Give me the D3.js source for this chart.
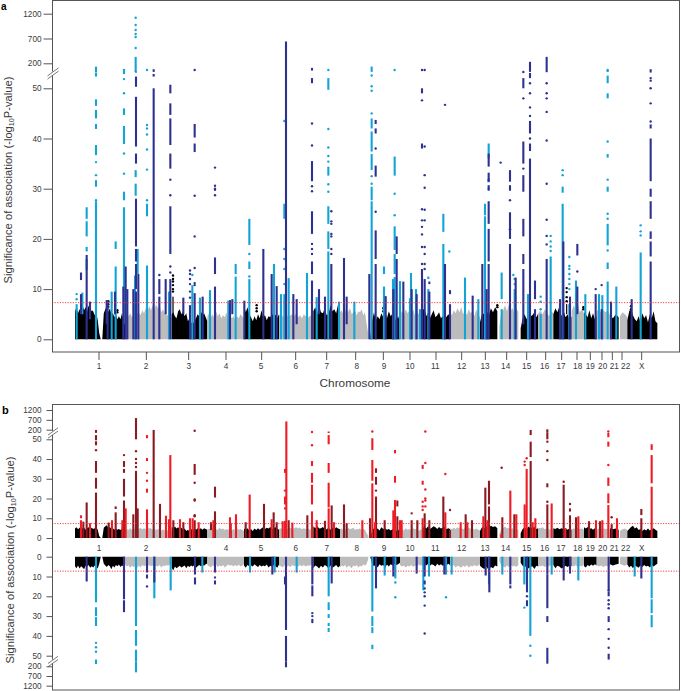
<!DOCTYPE html>
<html><head><meta charset="utf-8">
<script src="https://cdn.jsdelivr.net/npm/d3@7/dist/d3.min.js"></script>
<style>html,body{margin:0;padding:0;background:#fff}svg{display:block}text{font-family:"Liberation Sans",Arial,sans-serif;fill:#3a3a3a}</style>
</head><body><div id="chart"></div>
<script>
// x positions are in relative genome track units (0-2043 across the figure)
const chromosomes = ["1","2","3","4","5","6","7","8","9","10","11","12","13","14","15","16","17","18","19","20","21","22","X"];
const chrStart = [225,375,515,622,732,837,940,1020,1105,1200,1268,1350,1440,1498,1562,1615,1660,1715,1752,1790,1830,1860,1882];
const chrEnd   = [375,515,622,732,837,940,1020,1105,1200,1268,1350,1440,1492,1555,1615,1660,1715,1752,1790,1830,1856,1882,1972];
const chrTickPos = [297,439,566,678,785,887,980,1067,1150,1230,1308,1385,1456,1520,1580,1637,1685,1731,1771,1806,1837,1866,1925];
const chrLabelPos = [297,438,566,678,783,887,980,1070,1152,1230,1306,1385,1455,1517,1580,1634,1683,1733,1771,1808,1843,1877,1925];
const yTickValues = [0,10,20,30,40,50,200,700,1200];
const threshold = 7.3;

const skylineA = [
[5.5,6.6,5.2,6,5.6,6.8,5.8,6.4,5.5,6.8,5.2,5.8,5.6,4.8,5.4,3.8,1.2,0,0,5.2,6,6.6,5.4,6.2,5,5.2,4.4,5,4,4.6,4,5.2,3.9,5],
[4,5,4.6,5.2,4.4,4.8,4.4,5,5.4,4.8,5.8,5.2,6.2,5.6,6.6,5.8,6.8,6,7,6.2,6.8,5.4,6,5.2,5,4.6,4.8,4.2],
[5,5.4,4.6,4.2,5.6,6,5,5.6,4.6,5.2,3.6,4.2,3.4,3,3.6,4.2,5,4.6,5.6,4.8,5.2,4.4,3.6],
[4.6,5.2,4.4,5,4.2,5.6,4.6,5.2,4.2,4.8,4.4,5.4,4,4.8,4.2,4.6,3.8,4.6,4.2,5,4.6,4],
[6.8,5.4,6.4,5,4.4,3.6,4.6,3.8,5,4.2,5.8,4.4,4.8,3.8,4.6,4.4,5,4.6,4.9,4.2,5],
[4.8,5.2,4.6,4.2,5,4.4,4.8,5,4.6,5.2,4.4,4.8,4.2,5,4.6,4.2,4.6,4.8,3.4],
[5.6,6.4,5,6.8,5.4,5.2,6.2,4.8,5,6.8,5.6,6,5.2,7,6.2],
[5.4,5.8,5,6,5.2,5.6,6.2,5,5.4,5.8,4.8,5.6,5.4,6,4.8,5.4,3,1],
[0,0,3.6,5.4,3.8,4.6,4,5.2,4.4,5.8,4.2,5.6,4.6,5.2,4.2,3.8,4.6,3.4],
[5,5.6,4.8,6,5.2,5.8,5,6,4.6,5.4,5,5.6,4.8],
[5.8,6.2,4.6,5.4,4.2,5,5.8,4.4,4.8,5.4,4.2,4.6,5.2,4.4,5,4.6],
[5.4,4.8,5.8,5.2,6.2,5.4,6.4,5,5.8,4.8,6,5.2,5.6,4.6,6,5,4.4],
[3.4,5.2,5,6,4.6,6.2,5.4,6.4,5.6],
[2.6,5.4,5.8,6.8,5.6,7,5.8,6.2,5,6.2,5.4],
[2.2,4.2,5,4,5.4,4.6,4.8,5.4,4.4,5.2],
[5.2,5.8,5,6,5.4,4.6,5.6,5.2],
[5,6.2,5.4,6.6,4.6,5.8,4.4,5,3.8,4.6],
[5.6,6.8,5.8,7,5.4,6,5.2],
[5.4,5,4.4,5.8,4.2,5.2,4,4.8],
[5.6,6,5.2,5.8,5.4,5.8,4.8],
[4.8,4.2,5,4.4],
[4.6,5.4,5,4.4],
[3.8,5.6,6.2,4.8,4,3.6,4.6,3.4,5.2,4.2,4.8,3.4,5,4.2,5.6,3.6,3.2]
];
const skylineB = [
[4.8,5.4,4.4,5.2,5.6,4.8,5.2,4.2,5,5.4,4.4,5.2,4.6,5,5.6,4.2,1,0,0,5.2,6,6.4,5,5.6,4.6,5,4.2,4.8,4.2,4.6,4,4.8,4.4,5],
[3.6,4.6,4,5,4.2,4.8,4.4,5,4.6,5.2,4.4,5,4.6,5.4,4.8,5,4.2,4.8,4,4.6,4.2,3.8,4.4,3.8,4.2,3.6,4,3.6],
[5.6,5,5.8,4.8,5.4,4.6,5.2,4.2,4.8,3.6,4.2,3.4,4.6,3.8,4.8,4.2,5,4.4,5,4.2,5,4.6,4.2],
[4,4.8,4.2,5,4.2,4.6,4,5.2,4.4,4.8,4,4.6,4.2,4.4,3.8,4.6,4,4.8,4.2,4.6,4,3.6],
[4.8,4.2,5,3.8,4.6,3.6,4.8,4,5,4.2,5,5.4,4.6,5.2,4.8,5.6,4.4,5,5.4,4.8,4.2],
[4.6,5,4.4,4.8,4.2,5,5.2,4.6,5,5.4,4.8,5.2,4.4,5,4.6,4.8,4.2,4.6,3.8],
[6,5,6.2,4.8,5,5.6,4.6,4.4,5.2,4.2,5,4.6,5.4,4.8,4.4],
[4.4,5,3.8,4.6,4,5.2,4.4,4.8,5.2,4,4.6,4.4,5,4,4.6,4.2,2.4,1],
[0,0,3.8,5,4.2,4.8,3.8,5.4,4.6,5,4.2,4.6,3.8,4.4,4,3.6,4.2,3.4],
[4,4.8,3.8,5,4.2,4.6,3.8,5,4.4,4.8,3.6,4.4,3.8],
[5,5.8,4.8,6,4.6,5.2,6,5.4,4.6,5.6,4.8,5.2,5.8,4.4,5,4.6],
[5,4.4,5.2,4.6,5.4,4.8,5.2,4.4,5,4.2,5.4,4.6,5,4.2,4.8,4.2,3.8],
[3.6,5.6,4.8,6,5.2,6.2,5.6,6,5],
[2,4.6,5,5.8,4.8,5.2,4.4,5,4,4.6,4.2],
[2.4,4.6,5.4,4.4,5.8,4.8,5.2,5.6,4.6,5],
[5.2,5,5.4,4.4,5,4.2,4.6,4],
[5,4.6,5.2,4.4,5,4.6,4.8,4.2,5,4.2],
[4.2,5,4.4,5.2,4.6,4.8,4],
[5.4,4.8,5.6,4.6,5,4.2,5,4.2],
[4.2,4.8,4.4,5,4.6,4.8,3.8],
[5,4.4,4.8,4.2],
[3.6,4.4,4.8,4],
[3.6,4.6,5.6,6.2,4.8,5.4,4,4.6,3.6,4.4,3.8,4.8,3.8,4.4,5,4.2,3.6]
];
const skylineC = [
[4.8,5.8,4.4,6,4.8,5.4,6.4,4.6,5,4.2,5.6,4.8,5.4,4.4,5,6,3.6,0,0,3.6,4.4,5.2,4.2,4.8,6.4,4.6,5.4,4.2,4.8,4,5.2,4.4,4.8,5],
[3.8,5,4.4,5.6,4.6,5.2,4.8,5.6,4.4,5.4,4.2,4.8,4.4,5,4.2,4.8,4.4,5.4,4.6,5,4.2,5.4,4.4,4.8,4.2,4.6,3.8,4.4],
[5.6,7,5,5.8,5.2,4.6,5.4,5,4.4,5.8,4.6,5.2,4.4,5,4.2,5.6,4.8,4.2,4.8,4.2,4.6,3.8,3.4],
[4.2,4.8,5.4,4.4,4.8,4,5.2,4.4,5,4.2,5.4,4.6,4,4.6,4.2,5,4.2,4.8,4,5,4.4,4],
[4.4,5.6,4.2,4.8,4.4,5,3.8,4.6,5.2,4.2,5,4.4,4.8,4,5.4,4.6,5,4.2,4.8,5.6,4],
[4.4,4.8,5.4,4.2,5,4.6,5.2,4.2,4.8,4.4,5,4.2,4.8,4.2,5,4.4,4.6,4,3.6],
[5.8,4.4,5,6,4.6,5.4,4.2,4.8,6,4.4,5.6,5,4.2,5.4,4.6],
[5.4,4.4,5,4.2,5.6,4.6,5,5.8,4.4,5,4.2,5.4,4.6,5,4,4.6,3.6,1],
[0,0,3.6,4.8,4,5.4,3.8,4.6,4.2,5.6,4,5,3.8,4.4,3.6,4.2,3.8,3],
[4.2,5,4.4,5.4,4.6,5,4.2,5.2,4.4,5,4,4.6,3.8],
[5,3.8,4.4,3.6,4.6,3.8,4.2,5,3.6,4.4,3.8,4.6,4,4.4,3.6,4.2],
[4.4,5,4.2,5.4,4.6,5,5.6,4.4,5.2,4.2,5.4,4.6,5,4.2,4.8,4.4,4],
[4.6,5.6,6.2,5,6.8,5.2,5.8,4.4,5],
[2,4.4,5,5.4,4.4,5.2,4.2,5,4.6,5.2,4.2],
[3,4.6,5.4,4.4,6,5.2,4.8,6.2,4.6,5],
[4.2,5,4.4,5.2,4.6,4.8,4.2,3.6],
[4.2,5.8,4.6,5,6,5.4,4.6,5.2,4.4,4.8],
[4.4,5,4.2,5.4,4.6,5,4],
[4.8,5.4,4.2,4.8,4,4.6,3.8,4.4],
[4.2,5,4.4,5.2,4.6,5,4],
[3.8,4.4,4,3.6],
[3.6,4.2,4.6,4],
[4,5.4,4.6,5.8,4.4,5,5.6,4.4,5.2,4.2,5,4.6,5.4,4.2,5,4.2,3.6]
];

// each row: track position, solid runs [low, high], isolated dots
const aBlack = [
[519,[[5,8.5]],[9.5,10,10.8,11.5,12,12.7]],[325,[],[6.5,7,7.6]],[352,[],[5.4,5.8]],[770,[],[5.6,6.2,6.8]],
[1700,[[5,7]],[7.6,8.4,9.4,10.2]],[1150,[],[5.6,6.2]],[1492,[],[6.4,6.8]],[1893,[],[6,6.6]],[1750,[],[6,6.4]]
];
const aLight = [
[230,[[0,7]],[8,9]],[247,[[5,9.3]],[]],[260,[[13.8,16],[17.5,18.4],[20.5,23.5],[24,26.3]],[]],
[288,[[0,27.5],[30.4,31.7],[36.7,38.7],[41.9,42.9],[44,45.7],[46.5,47.8],[52.3,53],[60,150]],[27.7,32.7,35.3]],
[335,[[0,9.5]],[]],[347,[[0,14.5],[18,19.5]],[]],
[372,[[3,26.3],[27.7,29.4],[38.9,42.5],[44.7,46]],[33,37,49,51.8,53,85,98]],
[405,[[0,12.7]],[]],[407,[[28.6,31],[32.3,33.7],[68,330]],[508,730,790,872,972,1119]],[413,[[13,18]],[]],
[441,[[0,14.7],[24.5,27]],[27.7,33.8,37.8,40.8,42,42.7,98]],[507,[[0,9.5]],[]],[577,[[0,10.8]],[12.8]],
[600,[[0,8.3]],[]],[630,[[0,9.8]],[]],[685,[[0,7.7]],[]],[707,[[0,12.5],[13,15]],[]],
[748,[[0,12],[14,15.5],[18.8,24]],[12.5,17]],[822,[[0,15]],[]],[843,[[0,9]],[]],
[853,[[0,9],[24,27]],[11,14,16,18,43.5]],[866,[[0,12.2]],[]],[921,[[0,13.2]],[]],[950,[[0,8.4]],[]],
[985,[[0,17.5],[18,21.5],[23,26.5],[32.6,34.4],[49.7,52]],[29.4,30.9,35.4,36.5,38.2,41.9,98]],[1017,[[0,7.5]],[]],
[1063,[[0,7.5]],[]],
[1115,[[0,27.5],[27.7,30.4],[33.7,36.9],[37.4,41.4],[42,44],[70,150]],[31,32.5,45,49.5,50.4,52.5]],
[1152,[[0,10.5],[13,14.5]],[]],[1179,[[0,12]],[]],
[1184,[[0,12.4],[13,17],[17.8,22.5],[32.6,36.4]],[24.7,29,98]],
[1200,[[0,11.6]],[]],[1230,[[0,8.2]],[]],[1233,[[0,13.2]],[]],[1248,[[0,10]],[]],[1260,[[0,6]],[]],[1285,[[0,10],[12,12.5]],[]],
[1330,[[0,19],[21.4,25]],[]],[1348,[],[17.5]],[1395,[[0,12.3]],[]],[1435,[[0,8]],[]],
[1455,[[0,24.5],[24.7,27]],[]],[1466,[[36,39]],[30,31.5]],
[1505,[[0,6],[8,13.3]],[]],[1540,[],[12.8]],[1544,[[0,10]],[11,12]],
[1584,[[0,9]],[]],[1622,[[0,5]],[6,7.5,8.5]],[1652,[[0,16.5]],[17.6,18.5,19.5,20.6]],
[1688,[[0,27],[29.2,30.4]],[32.7,33.7]],[1708,[[0,7]],[10,11,12,13,14,14.6,16.4]],
[1728,[[0,11.7]],[]],[1756,[[0,9]],[]],[1797,[[0,9]],[]],[1807,[[0,8.8]],[]],
[1823,[[0,11.5],[14,15.3],[18.7,23],[29.4,30.4],[36.2,36.9],[48,49],[51,52.5]],[17.7,24,25,31.8,39.4,85,100]],
[1849,[[0,10.5]],[]],[1922,[[0,17.3]],[20.7,21.5,22.7]]
];
const aDark = [
[243,[[5,9],[11.8,13.3]],[]],[260,[[0,16.8]],[]],[270,[[4,7.5]],[]],[320,[[3,7.8]],[]],[323,[[0,7.8]],[]],
[345,[[5,9.5]],[]],[370,[[0,10.5]],[]],[377,[[0,14.5]],[]],[382,[[0,10]],[]],[400,[[0,10]],[]],
[408,[[0,9.5],[10,15],[15.5,18],[18.5,28],[35,37],[38.4,48.3],[50.3,52.3],[60,72]],[]],[415,[[0,13]],[]],
[461,[[0,50],[52.3,52.8],[70,110]],[]],[478,[[0,8.5],[9,12]],[12.8]],[497,[[5,12]],[]],
[511,[[0,12],[17,26.5],[34,37],[38.7,44],[44.7,47],[49,50.7]],[13.3,14.5,28.7,31.8]],
[550,[[5,8.3]],[]],[570,[[0,6.8]],[8.3,9.5,11,12,13,13.7]],
[584,[[0,9.2],[37.3,39],[40.2,42.9]],[10.8,11.2,14.2,20.5,28.6,98]],[608,[[0,8.5]],[]],
[645,[[0,10.5],[13,16.3]],[28.7,29.8,30,30.6,34.2]],[690,[[0,7.8]],[]],[697,[[5,8]],[]],[733,[[0,7.7]],[]],
[790,[[0,18]],[]],[815,[[0,13]],[]],[830,[[0,10.6]],[]],[858,[[0,53],[53,640]],[]],[880,[[0,9]],[]],[890,[[3,8]],[]],
[936,[[0,11.7],[13,15.5],[21,25.5],[31.5,35.5],[51,52],[90,130]],[17,18,19,29.5,30.5,38.6,43]],
[957,[[5,10]],[]],[975,[[0,8.5]],[]],[994,[[0,15]],[17,18,20.5,21,23,23.5,25.5]],
[1032,[[0,16.2]],[]],[1040,[[3,8.5]],[]],[1108,[[0,13]],[]],
[1127,[[0,15],[16,21.7],[32.4,34.6],[41,42],[42.9,43.7]],[25.4,38]],
[1157,[[0,8.6]],[]],[1180,[[0,10]],[]],[1190,[[0,16],[17,20.5]],[]],[1210,[[0,11.5]],[]],[1235,[[0,10]],[]],[1250,[[0,9]],[]],
[1266,[[0,14],[38,39],[49,50]],[15,18.4,20.9,22.4,23.7,25.9,47.6,98]],
[1274,[[0,12]],[14,15,17,18.4,23.7,25.8,30.2,32.7,38.4,98]],
[1288,[[0,9.5],[11,11.5]],[]],[1335,[[0,15]],[46.7]],[1350,[[0,7],[9,9.8]],[]],[1418,[[0,8.7]],[]],
[1447,[[0,15]],[]],[1460,[[0,10]],[]],
[1466,[[0,15],[15.5,22],[23,27.5],[29.6,30.7],[31.4,33.2],[34.4,37]],[31.8]],[1502,[],[35.2]],
[1530,[[0,19],[20,25.3],[29.6,30.7],[31.4,33.7]],[21.9,27.7]],[1547,[[0,12.3]],[]],
[1570,[[3,14],[15,17],[20.5,24],[29.4,32.7],[35,39.4],[50,52]],[34,48,68]],
[1590,[[0,36],[37.5,39],[41,43.5],[52,53.5],[70,230]],[40,44.5,46.2,49,51]],[1605,[[0,6],[8,11.7]],[]],
[1640,[[0,16],[65,330]],[18.9,20.6,23.8,31,39.6,45.3,48,49,51]],[1680,[[0,8]],[]],[1690,[[0,19.5]],[]],[1710,[[0,8.5]],[]],
[1732,[[5,10.5],[16.7,19]],[13.5]],[1787,[[0,9]],[10]],[1805,[[0,6]],[10.8]],[1833,[[0,7.5]],[]],[1895,[[0,8]],[]],
[1952,[[0,15.5],[16.5,19.5],[20,21.5],[24,27.5],[28.4,30],[31.5,40],[42,42.8],[60,110]],[43.4,47,50,51.5,52]]
];
const bRed = [
[243,[[0,9],[10,11.5]],[]],[270,[[0,7.5]],[]],[336,[[0,9]],[]],[367,[[0,9]],[]],[377,[[0,15]],[]],
[441,[[0,14.5],[23,25],[39,40.5],[50.5,52]],[29,33]],[498,[[0,11.3]],[]],[507,[[0,9.5]],[]],[511,[[0,42]],[]],
[540,[[0,9.5]],[]],[570,[[0,10]],[]],[578,[[0,10]],[]],[596,[[0,8]],[]],[640,[[0,9]],[]],[690,[[0,10.5]],[]],[708,[[0,12]],[]],
[749,[[0,22]],[]],[815,[[0,9.5]],[]],[848,[[0,8.5]],[]],[855,[[0,8.7],[14.5,15.5],[17,21],[33,35]],[24]],[859,[[0,53],[53,620]],[]],[877,[[0,7.8]],[]],
[936,[[0,13.5],[17,27],[28,33],[36.5,39]],[47,100]],[950,[[0,9]],[]],[986,[[0,15],[15.5,28],[33,38],[47.5,52],[53,120]],[]],[1002,[[0,8]],[]],
[1087,[[0,9]],[]],[1117,[[0,27.7],[29,39.5],[44.6,50.5]],[120]],[1125,[[0,8]],[]],
[1180,[[0,14]],[]],[1185,[[0,19.2],[28,31.4],[42.9,44.6]],[]],[1200,[[0,9]],[]],[1205,[[0,9]],[]],
[1268,[[0,10],[27,29],[35,37]],[14.2,16,18.4]],[1276,[],[16,19,20,24.6,38,120]],[1336,[[0,13]],[32.4]],[1382,[[0,8]],[]],[1402,[[0,8]],[]],
[1450,[[0,11]],[]],[1462,[[0,9]],[]],[1504,[[0,2]],[]],[1531,[[0,24]],[]],[1549,[[0,12]],[]],
[1574,[[0,17]],[37,38.7]],[1580,[[0,35]],[40.4]],[1598,[[0,8]],[]],[1606,[[0,10]],[]],[1655,[[0,17.5]],[]],[1696,[[0,5]],[]],
[1735,[[0,11]],[]],[1788,[[0,9]],[]],[1807,[[0,9]],[]],
[1825,[[0,16.7],[17.6,22.6],[26.4,30.6],[46.3,48.8],[51,53]],[37,120]],[1851,[[0,10]],[]],
[1955,[[0,26],[27.7,42],[44.6,47.5]],[]]
];
const bMaroon = [
[250,[[0,8.3]],[]],[260,[[0,18]],[]],[288,[[0,23],[25,30.5],[33,39],[47,49],[49.5,52],[60,190]],[44.5]],
[326,[[0,7.8]],[]],[347,[[0,13],[14.7,16]],[]],[372,[[0,19],[21,30],[33,35],[36,39]],[42]],
[400,[[0,12]],[]],[408,[[0,34],[50,53],[55,790]],[36,38,40,44]],[413,[[0,15]],[]],[461,[[0,53],[53,190]],[]],[480,[[0,17.3]],[]],
[520,[[0,9]],[]],[550,[[0,8]],[]],[584,[[0,9],[32,37.5]],[11,11.5,19,19.5,28,150]],[633,[[4,8]],[]],[645,[[0,13.5],[20.5,26]],[]],
[692,[[0,7.5]],[]],[737,[[0,8]],[]],[792,[[0,17.3]],[]],[821,[[0,13]],[]],[830,[[0,8]],[]],[866,[[0,9]],[]],[922,[[0,11.5]],[]],
[975,[[0,8.7]],[]],[995,[[0,16.5]],[]],[1032,[[0,17]],[]],[1040,[[0,7.5]],[]],
[1110,[[0,10]],[]],[1128,[[0,21],[27,31],[33,35.3]],[24]],[1154,[[0,9]],[]],[1192,[[0,11],[16,19]],[]],
[1235,[[0,9],[12,13]],[]],[1252,[[0,9]],[]],[1274,[[0,12.5]],[]],[1288,[[0,9]],[]],[1330,[[0,21]],[]],[1350,[[0,4]],[14.2]],
[1397,[[0,12]],[]],[1416,[[0,9]],[]],[1456,[[0,25.5]],[]],[1467,[[0,16],[17,29]],[]],[1505,[],[35.6]],[1507,[[0,10.5]],[]],
[1543,[[0,12]],[]],[1592,[[0,39],[41,48.8],[52,190]],[]],
[1642,[[0,17],[25.7,27.7],[50,53],[60,220]],[18.4,39.5,44,48.8]],[1691,[[0,27]],[28.5]],[1710,[[0,11.5],[13.4,15]],[17.2]],[1728,[[0,10.5]],[]],
[1767,[[0,8.5]],[]],[1800,[[0,8.5]],[]],[1835,[[0,7]],[10.5]],[1924,[[0,10],[11.6,14.7]],[]]
];
const cLight = [
[288,[[0,23],[25.5,30],[30.5,35],[52,130]],[43.5,45.7,48]],[408,[[0,35],[37,45],[47,53],[53,510]],[]],[463,[[0,21]],[]],
[512,[[0,17]],[]],[607,[[0,8]],[]],[750,[[0,8]],[]],[824,[[0,8]],[]],[890,[[0,8]],[]],
[986,[[0,20],[23,27],[29,31],[33.5,35],[36,38]],[]],
[1117,[[0,27.7],[30,35],[35.6,38.6],[44.5,46.7]],[]],[1154,[[0,9.5]],[]],[1186,[[0,11]],[13,20.5]],
[1270,[[0,17]],[]],[1287,[[0,10]],[]],[1338,[[0,9]],[20.5]],[1355,[[0,9]],[]],[1467,[[0,14]],[]],[1507,[[0,9]],[]],
[1573,[[0,14]],[25.7]],[1591,[[0,40]],[45,50]],[1655,[[0,9]],[]],[1735,[[0,12]],[]],[1904,[[0,10]],[]],
[1955,[[0,21],[21.5,28.5],[29.5,35.6]],[]]
];
const cDark = [
[260,[[0,12.5]],[]],[372,[[0,21.5],[22,28]],[]],[441,[[0,8],[9,11]],[15]],[463,[[0,13]],[]],[585,[[0,9],[10.5,14]],[]],
[645,[[0,8],[10,11],[12,14]],[]],[817,[[0,9]],[]],[855,[[10,14]],[]],[858,[[0,37],[40,53],[53,250]],[]],
[937,[[0,14],[14.5,20],[28,29]],[30,32,33]],[995,[[0,13.5]],[]],[1128,[[0,16]],[]],[1180,[[0,10]],[]],
[1250,[[0,8.5]],[]],[1274,[[0,10],[12,14]],[16,18,20,24.7,38.8]],[1333,[[0,9]],[]],[1457,[[0,9.5]],[]],[1468,[[0,18]],[]],
[1531,[[0,14],[14.5,16]],[]],[1581,[[0,18],[22,25]],[20]],[1642,[[0,8.7],[8.8,26],[30,33],[46,120]],[]],[1691,[[0,12]],[]],[1710,[[0,8.5]],[]],
[1826,[[0,17],[17.5,20],[30,33],[49,52]],[17,22,24,26,36.6,41.5,46]],[1924,[[0,11]],[]]
];

const colors = {light:"#12a4d6",dark:"#2e3192",red:"#ef1c26",maroon:"#8c1a21",black:"#000",gray:"#bcbcbc",line:"#555"};
const W=681,H=691;
const svg=d3.select("#chart").append("svg").attr("width",W).attr("height",H);
const x=d3.scaleLinear().domain([0,2043]).range([0,681]);
const yA=d3.scaleLinear().domain([0,50,53,200,1200]).range([339.3,88.3,73,63.3,13.7]);
const yB=d3.scaleLinear().domain([0,50,53,200,1200]).range([538,439.3,433,429.7,410]);
const yC=d3.scaleLinear().domain([0,50,53,200,1200]).range([556.7,655.7,661.5,666.3,685.7]);
const barW=2.1, dotR=1.2;

function skyline(g,y,data){
  data.forEach((vals,i)=>{
    const pos=d3.scalePoint().domain(d3.range(vals.length)).range([x(chrStart[i]),x(chrEnd[i])]);
    const area=d3.area().x((d,j)=>pos(j)).y0(y(0)).y1(d=>y(d)).curve(d3.curveLinear);
    g.append("path").datum(vals).attr("fill",i%2?colors.gray:colors.black).attr("d",area);
  });
}
function peaks(g,y,rows,color,w=barW){
  const gp=g.append("g").attr("fill",color);
  rows.forEach(([p,runs,dots])=>{
    gp.selectAll(null).data(runs).join("rect")
      .attr("x",x(p)-w/2).attr("width",w)
      .attr("y",d=>Math.min(y(d[0]),y(d[1]))).attr("height",d=>Math.abs(y(d[1])-y(d[0])));
    gp.selectAll(null).data(dots).join("circle")
      .attr("cx",x(p)).attr("cy",d=>y(d)).attr("r",dotR);
  });
}
function thresholdLine(g,y){
  g.append("line").attr("x1",52).attr("x2",680).attr("y1",y(threshold)).attr("y2",y(threshold))
    .attr("stroke","#ee2a2f").attr("stroke-width",0.9).attr("stroke-dasharray","1.2 1.4");
}
function yAxis(g,y,size,vals){
  const ax=d3.axisLeft(y).tickValues(vals).tickFormat(d3.format("d")).tickSize(size).tickPadding(size>=8?2:5);
  const a=g.append("g").attr("transform","translate(52.5,0)").call(ax);
  a.select(".domain").remove();
  a.selectAll("line").attr("stroke",colors.line);
  a.selectAll("text").attr("font-size",8.2).style("fill","#3a3a3a");
}
function breakMark(g,yc,half){
  g.append("rect").attr("x",50.5).attr("y",yc-2).attr("width",4).attr("height",4).attr("fill","#fff");
  [-1.6,1.6].forEach(o=>g.append("line").attr("x1",52.5-half).attr("x2",52.5+half+1)
    .attr("y1",yc+o+half*0.8).attr("y2",yc+o-half*0.8).attr("stroke",colors.line).attr("stroke-width",0.8));
}
function yTitle(g,cx,cy){
  const t=g.append("text").attr("transform",`translate(${cx},${cy}) rotate(-90)`).attr("text-anchor","middle").attr("font-size",11.2);
  t.append("tspan").text("Significance of association (-log");
  t.append("tspan").attr("font-size",7.2).attr("dy",2).text("10");
  t.append("tspan").attr("dy",-2).text("P-value)");
}

// panel a
const a=svg.append("g");
skyline(a,yA,skylineA);
peaks(a,yA,aBlack,colors.black,1.2);
peaks(a,yA,aLight,colors.light);
peaks(a,yA,aDark,colors.dark);
thresholdLine(a,yA);
a.append("rect").attr("x",52.5).attr("y",0.5).attr("width",627).attr("height",351.5).attr("fill","none").attr("stroke",colors.line);
yAxis(a,yA,9,yTickValues);
breakMark(a,73.5,5);
a.selectAll(null).data(chrTickPos).join("line").attr("x1",d=>x(d)).attr("x2",d=>x(d)).attr("y1",352).attr("y2",360).attr("stroke",colors.line);
a.selectAll(null).data(chromosomes).join("text").attr("x",(d,i)=>x(chrLabelPos[i])).attr("y",369).attr("text-anchor","middle").attr("font-size",8.2).text(d=>d);
a.append("text").attr("x",355).attr("y",387).attr("text-anchor","middle").attr("font-size",11.8).text("Chromosome");
yTitle(a,12,180);
a.append("text").attr("x",1).attr("y",9.5).attr("font-size",10).attr("font-weight","bold").style("fill","#000").text("a");

// panel b
const b=svg.append("g");
skyline(b,yB,skylineB);
peaks(b,yB,bMaroon,colors.maroon);
peaks(b,yB,bRed,colors.red);
thresholdLine(b,yB);
skyline(b,yC,skylineC);
peaks(b,yC,cLight,colors.light);
peaks(b,yC,cDark,colors.dark);
thresholdLine(b,yC);
b.append("rect").attr("x",52.5).attr("y",404.5).attr("width",627).attr("height",285.5).attr("fill","none").attr("stroke",colors.line);
yAxis(b,yB,6,yTickValues);
yAxis(b,yC,6,yTickValues);
breakMark(b,433,4.5);
breakMark(b,661.5,4.5);
b.selectAll(null).data(chromosomes).join("text").attr("x",(d,i)=>x(chrLabelPos[i])).attr("y",551).attr("text-anchor","middle").attr("font-size",8.2).text(d=>d);
yTitle(b,14,560);
b.append("text").attr("x",2).attr("y",414).attr("font-size",11).attr("font-weight","bold").style("fill","#000").text("b");
</script></body></html>
